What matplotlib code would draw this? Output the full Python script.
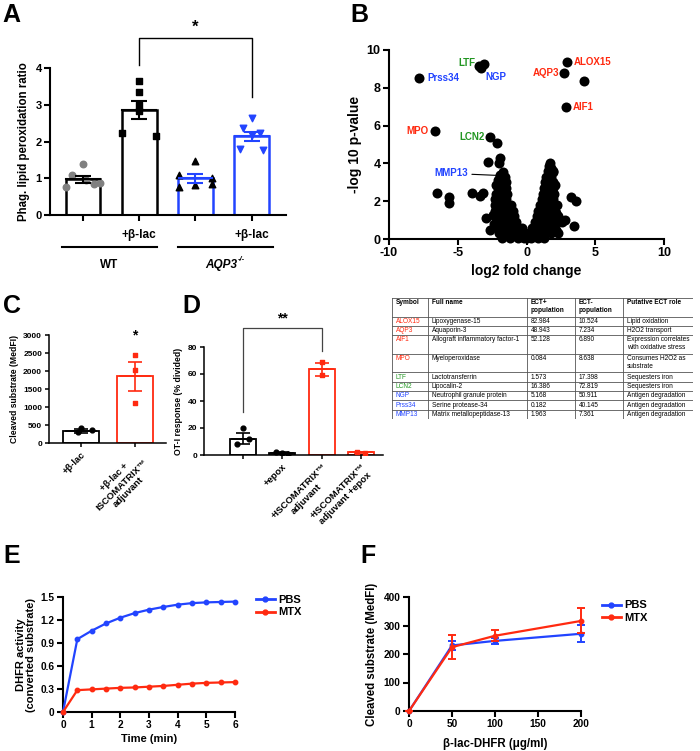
import matplotlib
matplotlib.use('Agg')
import matplotlib.pyplot as plt
from matplotlib.lines import Line2D
import numpy as np

plt.rcParams['font.family'] = ['Liberation Sans', 'DejaVu Sans']
plt.rcParams['font.weight'] = 'bold'
plt.rcParams['axes.labelweight'] = 'bold'
plt.rcParams['axes.unicode_minus'] = False

W, H = 700, 751

RED = '#ff2a10'
GREEN = '#229622'
BLUE = '#2244ff'
GRAY = '#808080'

# ---- panel A data
a_mean = [0.97, 2.86, 1.0, 2.14]
a_sem = [0.10, 0.24, 0.12, 0.13]
a_pts = [[1.40, 1.10, 0.95, 0.88, 0.75, 0.85],
         [3.64, 3.34, 3.00, 2.82, 2.23, 2.14],
         [1.47, 1.08, 1.02, 0.82, 0.76, 0.83],
         [2.64, 2.36, 2.24, 2.18, 1.80, 1.78]]
a_ticklabels = ['', '+β-lac', '', '+β-lac']

# ---- panel B data (volcano)
b_names = ['ALOX15', 'AQP3', 'AIF1', 'MPO', 'LTF', 'LCN2', 'NGP', 'Prss34', 'MMP13']
b_lx = [2.97, 2.73, 2.90, -6.68, -3.45, -2.68, -3.28, -7.82, -1.95]
b_ly = [9.38, 8.77, 7.00, 5.74, 9.15, 5.39, 9.03, 8.54, 3.36]
b_ox = [4.18, -3.12, -2.15, -1.90, -2.80, -2.00, -1.70, -6.48, -5.66, -5.63, -3.96,
        -3.40, -3.16, -2.92, -2.44, -2.68, -2.40, 3.26, 3.58, 3.45, 2.82, 2.17, 2.17,
        2.10, 1.68, 1.76, 1.93, -2.10, -2.25]
b_oy = [8.38, 9.26, 5.10, 4.28, 4.05, 4.00, 3.57, 2.46, 2.22, 1.90, 2.46,
        2.25, 2.43, 1.10, 1.28, 0.49, 0.80, 2.22, 1.99, 0.70, 1.02, 0.49, 1.37,
        2.87, 4.00, 3.75, 3.57, 3.10, 2.85]
b_vx = [-1.8, -1.2, -0.6, -0.2, 0.0, 0.3, 0.8, 1.3,
        -2.0, -1.5, -1.0, -0.5, -0.2, 0.2, 0.6, 1.2, 1.8, 2.3,
        -2.1, -1.6, -1.1, -0.6, -0.35, 0.4, 0.9, 1.5, 2.0,
        -2.2, -1.7, -1.2, -0.75, 0.6, 1.1, 1.6, 2.2, 2.6,
        -2.2, -1.75, -1.3, -0.9, 0.75, 1.2, 1.7, 2.3,
        -2.3, -1.8, -1.4, -1.0, 0.85, 1.3, 1.8, 2.1,
        -2.3, -1.9, -1.5, -1.1, 1.0, 1.4, 1.9, 2.2,
        -2.3, -1.9, -1.5, 1.1, 1.5, 1.95,
        -2.2, -1.8, -1.45, 1.2, 1.6, 2.0,
        -2.1, -1.8, -1.5, 1.3, 1.65, 1.95,
        -2.0, -1.7, -1.5, 1.35, 1.7, 1.9,
        -1.9, -1.6, 1.45, 1.75,
        1.55, 1.9, 1.65]
b_vy = [0.05, 0.05, 0.05, 0.05, 0.05, 0.05, 0.05, 0.05,
        0.3, 0.3, 0.3, 0.3, 0.3, 0.3, 0.3, 0.3, 0.3, 0.3,
        0.6, 0.6, 0.6, 0.6, 0.6, 0.6, 0.6, 0.6, 0.6,
        0.9, 0.9, 0.9, 0.9, 0.9, 0.9, 0.9, 0.9, 0.9,
        1.2, 1.2, 1.2, 1.2, 1.2, 1.2, 1.2, 1.2,
        1.5, 1.5, 1.5, 1.5, 1.5, 1.5, 1.5, 1.5,
        1.8, 1.8, 1.8, 1.8, 1.8, 1.8, 1.8, 1.8,
        2.1, 2.1, 2.1, 2.1, 2.1, 2.1,
        2.4, 2.4, 2.4, 2.4, 2.4, 2.4,
        2.7, 2.7, 2.7, 2.7, 2.7, 2.7,
        3.0, 3.0, 3.0, 3.0, 3.0, 3.0,
        3.3, 3.3, 3.3, 3.3,
        3.6, 3.6, 3.85]
b_colors = [RED, RED, RED, RED, GREEN, GREEN, BLUE, BLUE, BLUE]

# ---- table data
t_header = ['Symbol', 'Full name', 'ECT+\npopulation', 'ECT-\npopulation', 'Putative ECT role']
t_fullname = ['Lipoxygenase-15', 'Aquaporin-3', 'Allograft inflammatory factor-1',
              'Myeloperoxidase', 'Lactotransferrin', 'Lipocalin-2',
              'Neutrophil granule protein', 'Serine protease-34', 'Matrix metallopeptidase-13']
t_pos = ['82.984', '48.943', '52.128', '0.084', '1.573', '16.386', '5.168', '0.182', '1.963']
t_neg = ['10.524', '7.234', '6.890', '8.638', '17.398', '72.819', '50.911', '40.145', '7.361']
t_role = ['Lipid oxidation', 'H2O2 transport', 'Expression correlates\nwith oxidative stress',
          'Consumes H2O2 as\nsubstrate', 'Sequesters iron', 'Sequesters iron',
          'Antigen degradation', 'Antigen degradation', 'Antigen degradation']

# ---- panel C data
c_mean = [340, 1850]
c_sem = [50, 395]
c_pts = [[420, 370, 300], [2450, 2030, 1100]]
c_labels = ['+β-lac', '+β-lac +\nISCOMATRIX™\nadjuvant']

# ---- panel D data
d_mean = [12, 1.5, 63.5, 2.0]
d_sem = [4.2, 0.5, 5.0, 0.5]
d_pts = [[20, 11.5, 8], [2.0, 1.5, 1.0], [69, 59], [2.5, 1.6]]
d_labels = ['', '+epox', '+ISCOMATRIX™\nadjuvant', '+ISCOMATRIX™\nadjuvant +epox']

# ---- panel E data
e_time = [0, 0.5, 1, 1.5, 2, 2.5, 3, 3.5, 4, 4.5, 5, 5.5, 6]
e_pbs = [0, 0.95, 1.06, 1.155, 1.23, 1.29, 1.335, 1.37, 1.40, 1.42, 1.43, 1.435, 1.44]
e_mtx = [0, 0.285, 0.295, 0.305, 0.315, 0.32, 0.33, 0.34, 0.355, 0.37, 0.38, 0.385, 0.39]

# ---- panel F data
f_dose = [0, 50, 100, 200]
f_pbs = [0, 230, 246, 271]
f_pbs_err = [0, 16, 10, 30]
f_mtx = [0, 224, 264, 316]
f_mtx_err = [0, 42, 19, 44]


def box(l, t, r, b):
    return [l / W, 1 - b / H, (r - l) / W, (b - t) / H]


def style(ax, lw, fs, length=4):
    for s in ['top', 'right']:
        ax.spines[s].set_visible(False)
    for s in ['left', 'bottom']:
        ax.spines[s].set_linewidth(lw)
    ax.tick_params(width=lw, length=length, labelsize=fs, pad=2)


def panel_letter(x, y, s):
    fig.text(x / W, 1 - y / H, s, fontsize=18, fontweight='bold', va='top', ha='left')


def line_legend(ax, anchor):
    hs = [Line2D([], [], color=BLUE, lw=2, marker='o', ms=3.5),
          Line2D([], [], color=RED, lw=2, marker='o', ms=3.5)]
    ax.legend(hs, ['PBS', 'MTX'], loc='upper left', bbox_to_anchor=anchor, frameon=False,
              fontsize=8, handlelength=1.7, handletextpad=0.3, borderaxespad=0,
              borderpad=0, labelspacing=0.25)


fig = plt.figure(figsize=(7, 7.51), dpi=100)

# ================= A
ax = fig.add_axes(box(50, 68, 286, 215))
style(ax, 1.5, 8)
a_edge = ['black', 'black', BLUE, BLUE]
a_mark = ['o', 's', '^', 'v']
a_mcol = [GRAY, 'black', 'black', BLUE]
a_jit = [[0, -0.2, 0.05, 0.3, -0.3, 0.2], [0, 0, 0, 0, -0.3, 0.3],
         [0, -0.3, 0.3, 0, -0.3, 0.3], [0, -0.15, 0.15, 0, -0.2, 0.2]]
xs = np.arange(4)
ax.bar(xs, a_mean, width=0.62, facecolor='white', edgecolor=a_edge, linewidth=1.8, zorder=1)
for i in range(4):
    ax.scatter(xs[i] + np.array(a_jit[i]), a_pts[i], marker=a_mark[i], color=a_mcol[i],
               s=22, zorder=3, clip_on=False)
    ax.errorbar(xs[i], a_mean[i], yerr=a_sem[i], color=a_edge[i], capsize=6, capthick=1.5,
                elinewidth=1.5, zorder=4)
    ax.plot([xs[i] - 0.3, xs[i] + 0.3], [a_mean[i]] * 2, color=a_edge[i], lw=1.5, zorder=4)
ax.set_xlim(-0.586, 3.61)
ax.set_ylim(0, 4)
ax.set_yticks([0, 1, 2, 3, 4])
ax.set_xticks(xs)
ax.set_xticklabels(a_ticklabels, fontsize=8.5)
ax.tick_params(axis='x', pad=6)
ax.set_ylabel('Phag. lipid peroxidation ratio', fontsize=8.3, labelpad=4)
tr = ax.get_xaxis_transform()
ax.plot([-0.37, 1.31], [-0.22, -0.22], color='black', lw=1.5, transform=tr, clip_on=False)
ax.plot([1.69, 3.37], [-0.22, -0.22], color='black', lw=1.5, transform=tr, clip_on=False)
ax.text(0.47, -0.3, 'WT', transform=tr, ha='center', va='top', fontsize=8.5)
ax.text(2.75, -0.3, 'AQP3', transform=tr, ha='right', va='top', fontsize=8.5, style='italic')
ax.text(2.75, -0.28, '-/-', transform=tr, ha='left', va='top', fontsize=5.5, style='italic')
ax.plot([1, 1, 3, 3], [4.08, 4.82, 4.82, 3.21], color='black', lw=1.0, clip_on=False)
ax.text(2, 4.9, '*', ha='center', va='bottom', fontsize=12)
panel_letter(2, 3, 'A')

# ================= B
ax = fig.add_axes(box(389, 50, 664, 239))
style(ax, 1.5, 9)
ax.scatter(b_vx + b_ox + b_lx, b_vy + b_oy + b_ly, s=52, color='black', linewidths=0,
           zorder=3, clip_on=False)
b_off = [(4.3, 0), (-3.6, 0), (4.3, 0), (-4.3, 0), (-3, 2), (-3.6, 0), (3, -6.5),
         (5.8, 0), (-23, 1.5)]
b_ha = ['left', 'right', 'left', 'right', 'right', 'right', 'left', 'left', 'right']
for i, n in enumerate(b_names):
    kw = {}
    if n == 'MMP13':
        kw['arrowprops'] = dict(arrowstyle='-', lw=0.8, color='black', shrinkA=1, shrinkB=0)
    ax.annotate(n, (b_lx[i], b_ly[i]), xytext=b_off[i], textcoords='offset points',
                ha=b_ha[i], va='center', color=b_colors[i], fontsize=7, fontweight='bold', **kw)
ax.set_xlim(-10, 10)
ax.set_ylim(0, 10)
ax.set_xticks([-10, -5, 0, 5, 10])
ax.set_yticks([0, 2, 4, 6, 8, 10])
ax.set_xlabel('log2 fold change', fontsize=10, labelpad=3)
ax.set_ylabel('-log 10 p-value', fontsize=10, labelpad=3)
panel_letter(350, 3, 'B')

# ================= table
ax = fig.add_axes(box(392, 298, 693, 419))
ax.set_axis_off()
col_px = [392, 428, 527, 575, 623, 693]
cols = [(c - col_px[0]) / (col_px[-1] - col_px[0]) for c in col_px]
rows = [t_header] + [[b_names[i], t_fullname[i], t_pos[i], t_neg[i], t_role[i]]
                     for i in range(len(b_names))]
nlines = [max(c.count('\n') + 1 for c in r) for r in rows]
total = sum(nlines)
ax.set_xlim(0, 1)
ax.set_ylim(total, 0)
y = 0
for ri, r in enumerate(rows):
    for ci, cell in enumerate(r):
        col = 'black'
        wt = 'bold' if ri == 0 else 'normal'
        if ri > 0 and ci == 0:
            col = b_colors[ri - 1]
        ax.text(cols[ci] + 0.012, y + 0.12, cell, ha='left', va='top', fontsize=4.7,
                color=col, fontweight=wt, linespacing=1.2)
    y += nlines[ri]
    ax.plot([0, 1], [y, y], color='#555555', lw=0.6)
ax.plot([0, 1], [0, 0], color='#555555', lw=0.6)
for c in cols:
    ax.plot([c, c], [0, total], color='#555555', lw=0.6)

# ================= C
ax = fig.add_axes(box(49, 335, 166, 443))
style(ax, 1.1, 6, 3)
c_edge = ['black', RED]
c_jit = [[0, 0.2, -0.05], [0, 0, 0]]
xs = np.arange(2)
ax.bar(xs, c_mean, width=0.65, facecolor='white', edgecolor=c_edge, linewidth=1.3)
for i in range(2):
    ax.scatter(xs[i] + np.array(c_jit[i]), c_pts[i], marker='o' if i == 0 else 's',
               color=c_edge[i], s=12, zorder=3)
    ax.errorbar(xs[i], c_mean[i], yerr=c_sem[i], color=c_edge[i], capsize=5, capthick=1.2,
                elinewidth=1.2, zorder=4)
    ax.plot([xs[i] - 0.28, xs[i] + 0.28], [c_mean[i]] * 2, color=c_edge[i], lw=1.2, zorder=4)
ax.set_xlim(-0.593, 1.574)
ax.set_ylim(0, 3000)
ax.set_yticks(range(0, 3001, 500))
ax.set_xticks(xs)
ax.set_xticklabels(c_labels, rotation=45, ha='right', rotation_mode='anchor',
                   multialignment='center', fontsize=6.8)
ax.set_ylabel('Cleaved substrate (MedFI)', fontsize=6.2, labelpad=3)
ax.text(1, 2780, '*', ha='center', va='bottom', fontsize=10)
panel_letter(3, 294, 'C')

# ================= D
ax = fig.add_axes(box(204, 347, 383, 455))
style(ax, 1.1, 6, 3)
d_edge = ['black', 'black', RED, RED]
d_jit = [[0, 0.15, -0.15], [-0.15, 0, 0.15], [0, 0], [-0.1, 0.1]]
d_mark = ['o', 'o', 's', 's']
xs = np.arange(4)
ax.bar(xs, d_mean, width=0.66, facecolor='white', edgecolor=d_edge, linewidth=1.3)
for i in range(4):
    ax.scatter(xs[i] + np.array(d_jit[i]), d_pts[i], marker=d_mark[i], color=d_edge[i],
               s=12, zorder=3)
    ax.errorbar(xs[i], d_mean[i], yerr=d_sem[i], color=d_edge[i], capsize=5, capthick=1.2,
                elinewidth=1.2, zorder=4)
    ax.plot([xs[i] - 0.28, xs[i] + 0.28], [d_mean[i]] * 2, color=d_edge[i], lw=1.2, zorder=4)
ax.set_xlim(-0.99, 3.56)
ax.set_ylim(0, 80)
ax.set_yticks(range(0, 81, 20))
ax.set_xticks(xs)
ax.set_xticklabels(d_labels, rotation=45, ha='right', rotation_mode='anchor',
                   multialignment='center', fontsize=6.8)
ax.set_ylabel('OT-I response (% divided)', fontsize=6.2, labelpad=3)
ax.plot([0, 0, 2, 2], [32, 94, 94, 77], color='#444444', lw=0.9, clip_on=False)
ax.text(1, 96, '**', ha='center', va='bottom', fontsize=10)
panel_letter(182, 294, 'D')

# ================= E
ax = fig.add_axes(box(63, 597, 235, 712))
style(ax, 1.5, 7.3)
ax.plot(e_time, e_pbs, color=BLUE, lw=1.6, marker='o', ms=3.2, clip_on=False, zorder=3)
ax.plot(e_time, e_mtx, color=RED, lw=1.6, marker='o', ms=3.2, clip_on=False, zorder=3)
ax.set_xlim(0, 6)
ax.set_ylim(0, 1.5)
ax.set_xticks(range(0, 7))
ax.set_yticks([0, 0.3, 0.6, 0.9, 1.2, 1.5])
ax.set_yticklabels(['0', '0.3', '0.6', '0.9', '1.2', '1.5'])
ax.set_xlabel('Time (min)', fontsize=8, labelpad=3)
ax.set_ylabel('DHFR activity\n(converted substrate)', fontsize=8, labelpad=3, linespacing=1.05)
line_legend(ax, (1.12, 1.02))
panel_letter(3, 544, 'E')

# ================= F
ax = fig.add_axes(box(409, 597, 581, 711))
style(ax, 1.5, 7.3)
ax.errorbar(f_dose, f_pbs, yerr=f_pbs_err, color=BLUE, lw=1.6, marker='o', ms=3.2, capsize=3,
            capthick=1.4, elinewidth=1.4, clip_on=False, zorder=3)
ax.errorbar(f_dose, f_mtx, yerr=f_mtx_err, color=RED, lw=1.6, marker='o', ms=3.2, capsize=3,
            capthick=1.4, elinewidth=1.4, clip_on=False, zorder=4)
ax.set_xlim(0, 200)
ax.set_ylim(0, 400)
ax.set_xticks(range(0, 201, 50))
ax.set_yticks(range(0, 401, 100))
ax.set_xlabel('β-lac-DHFR (μg/ml)', fontsize=8.3, labelpad=6)
ax.set_ylabel('Cleaved substrate (MedFI)', fontsize=8.3, labelpad=4)
line_legend(ax, (1.12, 0.97))
panel_letter(360, 544, 'F')

fig.savefig('out.png', dpi=100)
